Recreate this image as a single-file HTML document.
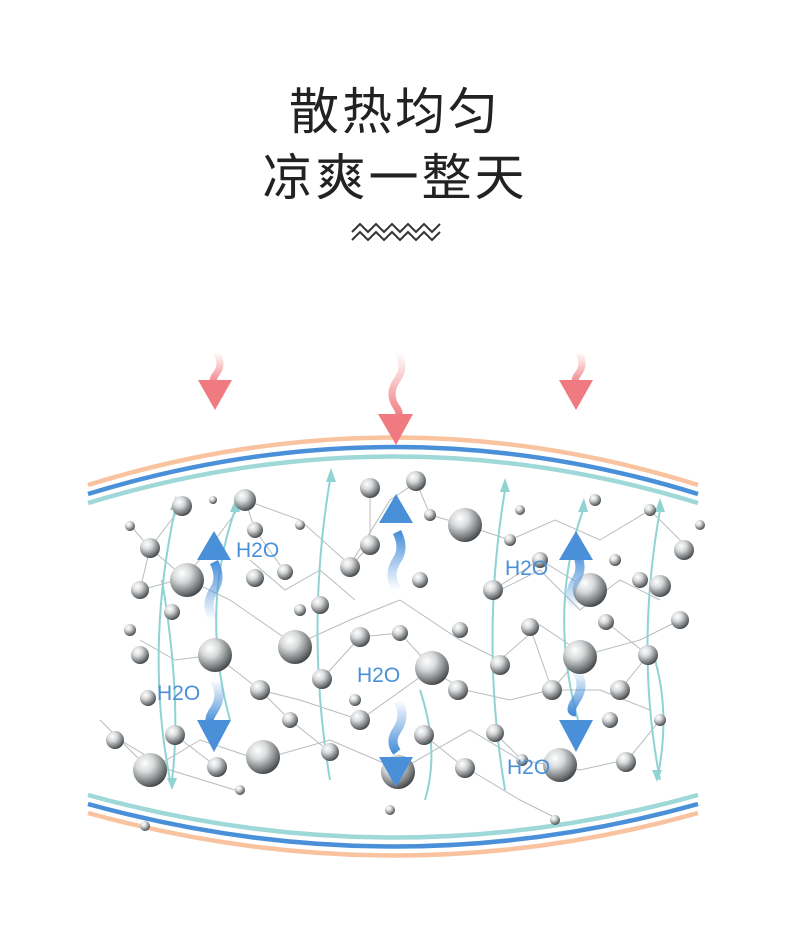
<!DOCTYPE html>
<html><head><meta charset="utf-8"><style>
html,body{margin:0;padding:0;background:#fff;width:790px;height:932px;overflow:hidden}
.t{position:absolute;left:0;width:790px;text-align:center;font-family:"Liberation Sans","Noto Sans CJK SC",sans-serif;color:#222;font-size:50px;letter-spacing:3px}
</style></head><body>
<div class="t" style="top:72px">散热均匀</div>
<div class="t" style="top:138px">凉爽一整天</div>
<svg width="790" height="932" style="position:absolute;left:0;top:0" xmlns="http://www.w3.org/2000/svg">
<defs>
<radialGradient id="b" cx="0.35" cy="0.3" r="0.75">
<stop offset="0" stop-color="#fff"/><stop offset="0.35" stop-color="#d8dadb"/><stop offset="0.8" stop-color="#6f7375"/><stop offset="1" stop-color="#3c3f41"/></radialGradient>
<linearGradient id="ru" x1="0" y1="0" x2="0" y2="1"><stop offset="0" stop-color="#ef7a7f" stop-opacity="0"/><stop offset="1" stop-color="#ef7a7f"/></linearGradient>
<linearGradient id="bu" x1="0" y1="1" x2="0" y2="0"><stop offset="0" stop-color="#4a90d9" stop-opacity="0"/><stop offset="1" stop-color="#4a90d9"/></linearGradient>
<linearGradient id="bd" x1="0" y1="0" x2="0" y2="1"><stop offset="0" stop-color="#4a90d9" stop-opacity="0"/><stop offset="1" stop-color="#4a90d9"/></linearGradient>
</defs>
<polyline points="352,232 360,224 368,232 376,224 384,232 392,224 400,232 408,224 416,232 424,224 432,232 440,224" fill="none" stroke="#333" stroke-width="2"/>
<polyline points="352,240 360,232 368,240 376,232 384,240 392,232 400,240 408,232 416,240 424,232 432,240 440,232" fill="none" stroke="#333" stroke-width="2"/>
<g fill="none" stroke-width="4.5">
<path d="M88,485 Q395,390 698,485" stroke="#f9c39f"/>
<path d="M88,494 Q395,400 698,494" stroke="#4a90d9"/>
<path d="M88,503 Q395,410 698,503" stroke="#9fd8d8"/>
<path d="M88,795 Q395,880 698,795" stroke="#9fd8d8"/>
<path d="M88,804 Q395,889 698,804" stroke="#4a90d9"/>
<path d="M88,813 Q395,898 698,813" stroke="#f9c39f"/>
</g>
<g fill="none" stroke="url(#ru)" stroke-width="7">
<path d="M216,352 q8,12 0,22 q-6,8 0,12"/>
<path d="M397,352 q10,14 0,28 q-10,14 0,28 q4,6 0,10"/>
<path d="M578,352 q8,12 0,22 q-6,8 0,12"/>
</g>
<g fill="#ef7a7f">
<polygon points="198,380 232,380 215,410"/>
<polygon points="378,414 413,414 396,445"/>
<polygon points="559,380 593,380 576,410"/>
</g>
<g stroke="#b8bcbe" stroke-width="1" fill="none">
<path d="M130,525 L150,548 L185,578 L215,540 L245,500 L300,520 L350,565 L390,500 L420,480 M465,525 L510,540 L555,520 L600,540 L650,510 L690,550 M150,548 L140,590 L185,578 L230,600 L295,645 L350,620 L400,600 L460,640 L500,660 L540,625 L585,655 L640,640 L680,620 M140,640 L175,660 L215,655 L260,690 L300,700 L360,720 L430,670 L465,690 L510,700 L550,690 L600,690 L650,710 M100,720 L150,770 L200,740 L260,760 L330,740 L400,770 L470,730 L520,760 L580,770 L625,760 M250,560 L285,590 L320,570 L355,600 M500,590 L540,570 L580,610 L620,580 L660,600 M120,740 L170,770 L235,790 M470,770 L520,800 L560,820"/>
<path d="M182,506 L150,548 M245,500 L255,530 L285,572 M370,488 L370,545 L350,567 M416,481 L430,515 L465,525 M493,590 L540,560 L590,590 M322,679 L360,637 L400,633 L432,668 M260,690 L290,720 L330,752 M530,627 L552,690 L580,657 M606,622 L648,655 L620,690 M175,735 L217,767 M424,735 L465,768 M495,733 L522,760 M626,762 L660,720"/>
</g>
<g fill="none" stroke="#8fd3d3" stroke-width="2">
<path d="M170,780 q-25,-130 5,-270"/><path d="M230,720 q-30,-110 5,-210"/><path d="M330,780 q-25,-150 0,-300"/>
<path d="M505,790 q-25,-150 0,-300"/><path d="M578,720 q-30,-110 5,-210"/><path d="M660,780 q-25,-130 0,-270"/>
<path d="M162,580 q20,120 10,200"/><path d="M420,690 q20,60 5,110"/><path d="M652,650 q20,60 5,130"/>
</g>
<g fill="#8fd3d3">
<polygon points="170,510 180,510 176,496"/><polygon points="230,512 240,512 236,498"/><polygon points="326,482 336,482 331,468"/>
<polygon points="500,492 510,492 505,478"/><polygon points="578,512 588,512 584,498"/><polygon points="655,512 665,512 660,498"/>
<polygon points="167,778 177,778 172,790"/><polygon points="652,770 662,770 657,782"/>
</g>
<g fill="url(#b)">
<circle cx="130" cy="526" r="5"/><circle cx="150" cy="548" r="10"/><circle cx="182" cy="506" r="10"/><circle cx="245" cy="500" r="11"/><circle cx="213" cy="500" r="4"/>
<circle cx="140" cy="590" r="9"/><circle cx="187" cy="580" r="17"/><circle cx="172" cy="612" r="8"/><circle cx="255" cy="578" r="9"/><circle cx="285" cy="572" r="8"/>
<circle cx="300" cy="525" r="5"/><circle cx="320" cy="605" r="9"/><circle cx="350" cy="567" r="10"/><circle cx="370" cy="488" r="10"/><circle cx="416" cy="481" r="10"/>
<circle cx="465" cy="525" r="17"/><circle cx="370" cy="545" r="10"/><circle cx="420" cy="580" r="8"/><circle cx="430" cy="515" r="6"/><circle cx="510" cy="540" r="6"/>
<circle cx="493" cy="590" r="10"/><circle cx="460" cy="630" r="8"/><circle cx="540" cy="560" r="8"/><circle cx="590" cy="590" r="17"/><circle cx="615" cy="560" r="6"/>
<circle cx="640" cy="580" r="8"/><circle cx="660" cy="586" r="11"/><circle cx="684" cy="550" r="10"/><circle cx="650" cy="510" r="6"/><circle cx="700" cy="525" r="5"/>
<circle cx="295" cy="647" r="17"/><circle cx="215" cy="655" r="17"/><circle cx="140" cy="655" r="9"/><circle cx="130" cy="630" r="6"/><circle cx="260" cy="690" r="10"/>
<circle cx="322" cy="679" r="10"/><circle cx="360" cy="637" r="10"/><circle cx="400" cy="633" r="8"/><circle cx="432" cy="668" r="17"/><circle cx="458" cy="690" r="10"/>
<circle cx="500" cy="665" r="10"/><circle cx="530" cy="627" r="9"/><circle cx="580" cy="657" r="17"/><circle cx="606" cy="622" r="8"/><circle cx="648" cy="655" r="10"/>
<circle cx="680" cy="620" r="9"/><circle cx="620" cy="690" r="10"/><circle cx="552" cy="690" r="10"/><circle cx="148" cy="698" r="8"/><circle cx="115" cy="740" r="9"/>
<circle cx="175" cy="735" r="10"/><circle cx="150" cy="770" r="17"/><circle cx="217" cy="767" r="10"/><circle cx="263" cy="757" r="17"/><circle cx="240" cy="790" r="5"/>
<circle cx="290" cy="720" r="8"/><circle cx="330" cy="752" r="9"/><circle cx="360" cy="720" r="10"/><circle cx="398" cy="772" r="17"/><circle cx="424" cy="735" r="10"/>
<circle cx="465" cy="768" r="10"/><circle cx="495" cy="733" r="9"/><circle cx="522" cy="760" r="6"/><circle cx="560" cy="765" r="17"/><circle cx="626" cy="762" r="10"/>
<circle cx="610" cy="720" r="8"/><circle cx="660" cy="720" r="6"/><circle cx="390" cy="810" r="5"/><circle cx="145" cy="826" r="5"/><circle cx="555" cy="820" r="5"/>
<circle cx="355" cy="700" r="6"/><circle cx="255" cy="530" r="8"/><circle cx="595" cy="500" r="6"/><circle cx="520" cy="510" r="5"/><circle cx="300" cy="610" r="6"/>
</g>
<g fill="none" stroke-width="9">
<path d="M214,620 q-10,-15 0,-30 q8,-12 0,-28" stroke="url(#bu)"/>
<path d="M397,590 q-10,-15 0,-30 q8,-12 0,-28" stroke="url(#bu)"/>
<path d="M576,610 q-10,-15 0,-30 q8,-12 0,-28" stroke="url(#bu)"/>
<path d="M214,680 q10,15 0,30 q-8,12 0,12" stroke="url(#bd)"/>
<path d="M397,700 q10,15 0,30 q-8,12 0,22" stroke="url(#bd)"/>
<path d="M576,670 q10,15 0,30 q-8,12 0,12" stroke="url(#bd)"/>
</g>
<g fill="#4a90d9">
<polygon points="214,531 197,560 231,560"/><polygon points="396,494 379,523 413,523"/><polygon points="576,531 559,560 593,560"/>
<polygon points="214,752 197,720 231,720"/><polygon points="396,787 379,757 413,757"/><polygon points="576,752 559,720 593,720"/>
</g>
<g fill="#4a90d9" font-family="Liberation Sans,sans-serif" font-size="21">
<text x="236" y="557">H2O</text><text x="505" y="575">H2O</text><text x="357" y="682">H2O</text>
<text x="157" y="700">H2O</text><text x="507" y="774">H2O</text>
</g>
</svg>
</body></html>
